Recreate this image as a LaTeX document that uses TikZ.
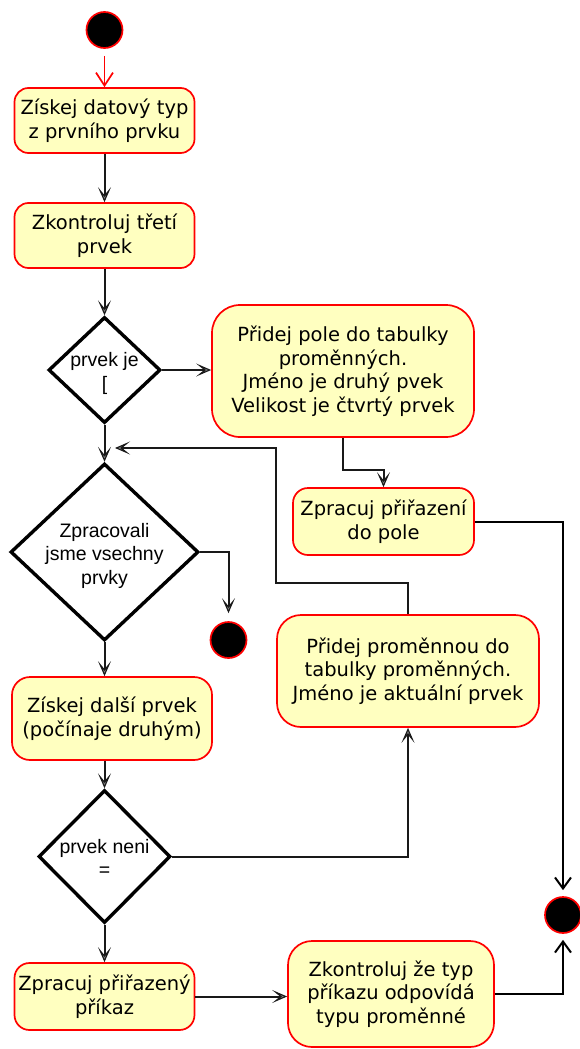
\documentclass[tikz,border=0pt]{standalone}
\usepackage{fontspec}
\setmainfont{DejaVu Sans}
\newfontfamily\diafont{Liberation Sans}
\usetikzlibrary{arrows.meta,shapes.geometric}
\definecolor{actfill}{HTML}{FFFFC0}
% text of a decision node: placed on the node, without enlarging the diamond
\newcommand\declines[1]{\makebox[0pt]{\smash{\raisebox{-9pt}{\begin{tabular}[c]{@{}c@{}}#1\end{tabular}}}}}
\begin{document}
\begin{tikzpicture}[x=1pt,y=-1pt,
  act/.style={draw=red, fill=actfill, line width=1.7pt, align=center, inner sep=0pt,
    font=\fontsize{19.5}{23.5}\selectfont},
  dec/.style={diamond, draw=black, fill=white, line width=3.4pt, inner sep=0pt,
    font=\diafont\fontsize{19.5}{23.5}\selectfont},
  initial/.style={circle, fill=black, draw=red, line width=1.7pt, minimum size=36pt, inner sep=0pt},
  flow/.style={draw=black!90, line width=2pt,
    -{Stealth[length=15pt, width=13pt, inset=8pt, fill=black!50, line width=1.1pt]}},
  finalflow/.style={draw=black, line width=2pt, -{Straight Barb[length=11pt, width=16pt]}},
  startflow/.style={draw=red, line width=1.7pt, -{Straight Barb[length=13pt, width=17pt]}},
]
\useasboundingbox (0,0) rectangle (580,1049);

% states
\node[initial] (start) at (104.5,30) {};
\node[act, minimum width=180pt, minimum height=65pt, rounded corners=14pt] (b1) at (104.5,120.5)
  {Získej datový typ\\z prvního prvku};
\node[act, minimum width=180pt, minimum height=65pt, rounded corners=14pt] (b2) at (104.5,235.5)
  {Zkontroluj třetí\\prvek};
\node[dec, minimum width=112pt, minimum height=106pt] (d1) at (104.5,370)
  {\declines{prvek je\\{[}}};
\node[act, minimum width=262pt, minimum height=132pt, rounded corners=28pt] (b3) at (343,371)
  {Přidej pole do tabulky\\proměnných.\\Jméno je druhý pvek\\Velikost je čtvrtý prvek};
\node[act, minimum width=181pt, minimum height=67pt, rounded corners=15pt] (b4) at (383.5,521.5)
  {Zpracuj přiřazení\\do pole};
\node[dec, minimum width=188pt, minimum height=177pt] (d2) at (104.5,552)
  {\declines{Zpracovali\\jsme vsechny\\prvky}};
\node[initial] (end1) at (228.5,640) {};
\node[act, minimum width=262pt, minimum height=112pt, rounded corners=24pt] (b5) at (408,671)
  {Přidej proměnnou do\\tabulky proměnných.\\Jméno je aktuální prvek};
\node[act, minimum width=200pt, minimum height=83pt, rounded corners=18pt] (b6) at (112,718.5)
  {Získej další prvek\\(počínaje druhým)};
\node[dec, minimum width=132pt, minimum height=133pt] (d3) at (104.5,856.5)
  {\declines{prvek neni\\=}};
\node[act, minimum width=180pt, minimum height=67pt, rounded corners=15pt] (b7) at (104.5,996.5)
  {Zpracuj přiřazený\\příkaz};
\node[act, minimum width=206pt, minimum height=106pt, rounded corners=24pt] (b8) at (391,994)
  {Zkontroluj že typ\\příkazu odpovídá\\typu proměnné};
\node[initial] (end2) at (563,915) {};
\coordinate (loopin) at (115,448);

% transitions
\draw[startflow, shorten <=7pt] (start.south) -- (b1.north);
\draw[flow] (b1) -- (b2);
\draw[flow] (b2) -- (d1);
\draw[flow] (d1.east) -- (d1.east -| b3.west);
\draw[flow] (d1.south) -- (d2.north);
\draw[flow] (b3.south) -- ++(0,32) -| (b4.north);
\draw[finalflow, shorten >=6pt] (b4.east) -| (end2.north);
\draw[flow, shorten >=8pt] (d2.east) -| (end1.north);
\draw[flow] (d2.south) -- (d2.south |- b6.north);
\draw[flow] (b5.north) -- ++(0,-31) -| (b5.west |- loopin) -- (loopin);
\draw[flow] (b6.south -| d3.north) -- (d3.north);
\draw[flow] (d3.east) -| (b5.south);
\draw[flow] (d3.south) -- (d3.south |- b7.north);
\draw[flow] (b7.east) -- (b7.east -| b8.west);
\draw[finalflow, shorten >=6pt] (b8.east) -| (end2.south);
\end{tikzpicture}
\end{document}
